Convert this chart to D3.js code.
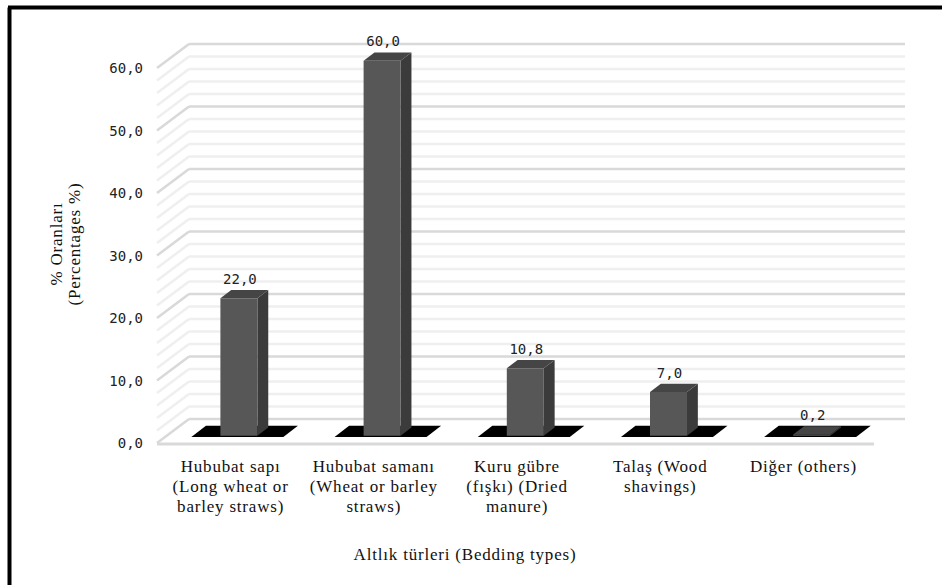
<!DOCTYPE html>
<html>
<head>
<meta charset="utf-8">
<script src="https://cdn.jsdelivr.net/npm/d3@7"></script>
<style>
  body { margin: 0; background: #fff; }
  .tick-label, .value-label { font-family: "DejaVu Sans Mono", monospace; font-size: 14px; fill: #222; }
  .cat-label, .axis-title { font-family: "Liberation Serif", "Times New Roman", serif; font-size: 17px; letter-spacing: 0.8px; fill: #111; }
</style>
</head>
<body>
<svg class="plot" width="942" height="585"></svg>
<script>
// chart values
var categories = [
  ["Hububat sapı", "(Long wheat or", "barley straws)"],
  ["Hububat samanı", "(Wheat or barley", "straws)"],
  ["Kuru gübre", "(fışkı) (Dried", "manure)"],
  ["Talaş (Wood", "shavings)"],
  ["Diğer (others)"]
];
var values = [22.0, 60.0, 10.8, 7.0, 0.2];
var yTicks = [0, 10, 20, 30, 40, 50, 60];
var yTitle = ["% Oranları", "(Percentages %)"];
var xTitle = "Altlık türleri (Bedding types)";

var svg = d3.select(".plot");

// front plane + depth offset of the 3d box
var depth = {dx: 31, dy: -24};
function off(d) { return [depth.dx * d, depth.dy * d]; }

var x = d3.scaleBand().domain(d3.range(values.length)).range([158, 874]);
var y = d3.scaleLinear().domain([0, 60]).range([443, 68]);

// frame (only left and top edges are visible)
svg.append("line").attr("x1", 9.5).attr("y1", 7.5).attr("x2", 9.5).attr("y2", 585)
  .attr("stroke", "#000").attr("stroke-width", 4);
svg.append("line").attr("x1", 8).attr("y1", 7.5).attr("x2", 942).attr("y2", 7.5)
  .attr("stroke", "#000").attr("stroke-width", 4);

var g = svg.append("g");
var x0 = x.range()[0], x1 = x.range()[1];
var back = off(1);

// gridlines on the back wall and left side wall (0 line is the floor's back edge)
var grid = d3.range(0, 61, 2);
function gridColor(d) { return d % 10 === 0 ? "#d9d9d9" : "#efefef"; }
g.selectAll(".grid-back").data(grid).enter().append("line")
  .attr("x1", x0 + back[0]).attr("x2", x1 + back[0])
  .attr("y1", function(d) { return y(d) + back[1]; })
  .attr("y2", function(d) { return y(d) + back[1]; })
  .attr("stroke", gridColor)
  .attr("stroke-width", 2.5);
g.selectAll(".grid-side").data(grid).enter().append("line")
  .attr("x1", x0 - 1).attr("y1", function(d) { return y(d); })
  .attr("x2", x0 + back[0]).attr("y2", function(d) { return y(d) + back[1]; })
  .attr("stroke", gridColor)
  .attr("stroke-width", 2.5);

// floor front edge
g.append("line").attr("x1", x0 - 1).attr("x2", x1).attr("y1", y(0) + 1).attr("y2", y(0) + 1)
  .attr("stroke", "#d9d9d9").attr("stroke-width", 3);

// y tick labels
g.selectAll(".tick-label").data(yTicks).enter().append("text")
  .attr("class", "tick-label")
  .attr("x", 143).attr("y", function(d) { return y(d) + 5; })
  .attr("text-anchor", "end")
  .text(function(d) { return d.toFixed(1).replace(".", ","); });

// black shadow pads under each bar
var padHalf = 46, padD0 = 0.25, padD1 = 0.72;
g.selectAll(".pad").data(values).enter().append("polygon")
  .attr("class", "pad")
  .attr("fill", "#000")
  .attr("points", function(d, i) {
    var c = x(i) + x.bandwidth() / 2, a = off(padD0), b = off(padD1), y0 = y(0);
    return [[c - padHalf + a[0], y0 + a[1]], [c + padHalf + a[0], y0 + a[1]],
            [c + padHalf + b[0], y0 + b[1]], [c - padHalf + b[0], y0 + b[1]]]
      .map(function(p) { return p.join(","); }).join(" ");
  });

// 3d bars
var barHalf = 18.5, barD0 = 0.3, barD1 = 0.65;
var bars = g.selectAll(".bar").data(values).enter().append("g").attr("class", "bar");
function facePts(pts) { return pts.map(function(p) { return p.join(","); }).join(" "); }
bars.each(function(d, i) {
  var c = x(i) + x.bandwidth() / 2, a = off(barD0), b = off(barD1);
  var l = c - barHalf, r = c + barHalf, yb = y(0), yt = y(d);
  var el = d3.select(this);
  // side face
  el.append("polygon").attr("fill", "#3b3b3b").attr("points", facePts([
    [r + a[0], yb + a[1]], [r + b[0], yb + b[1]], [r + b[0], yt + b[1]], [r + a[0], yt + a[1]]]));
  // top face
  el.append("polygon").attr("fill", "#454545").attr("points", facePts([
    [l + a[0], yt + a[1]], [r + a[0], yt + a[1]], [r + b[0], yt + b[1]], [l + b[0], yt + b[1]]]));
  // front face
  el.append("polygon").attr("fill", "#575757").attr("points", facePts([
    [l + a[0], yb + a[1]], [r + a[0], yb + a[1]], [r + a[0], yt + a[1]], [l + a[0], yt + a[1]]]));
});

// value labels
g.selectAll(".value-label").data(values).enter().append("text")
  .attr("class", "value-label")
  .attr("x", function(d, i) { return x(i) + x.bandwidth() / 2 + off(barD0)[0] + 1; })
  .attr("y", function(d) { return y(d) + off(barD1)[1] - 6; })
  .attr("text-anchor", "middle")
  .text(function(d) { return d.toFixed(1).replace(".", ","); });

// category labels
var cat = g.selectAll(".cat-label").data(categories).enter().append("text")
  .attr("class", "cat-label")
  .attr("text-anchor", "middle")
  .attr("transform", function(d, i) { return "translate(" + (x(i) + x.bandwidth() / 2 + 1) + ",472)"; });
cat.selectAll("tspan").data(function(d) { return d; }).enter().append("tspan")
  .attr("x", 0).attr("y", function(d, j) { return j * 20; })
  .text(function(d) { return d; });

// axis titles
svg.append("text").attr("class", "axis-title")
  .attr("x", 465).attr("y", 560).attr("text-anchor", "middle").text(xTitle);
var yt = svg.append("text").attr("class", "axis-title")
  .attr("text-anchor", "middle")
  .attr("transform", "translate(0,244) rotate(-90)");
yt.selectAll("tspan").data(yTitle).enter().append("tspan")
  .attr("x", 0).attr("y", function(d, j) { return 62 + j * 18; })
  .text(function(d) { return d; });
</script>
</body>
</html>
